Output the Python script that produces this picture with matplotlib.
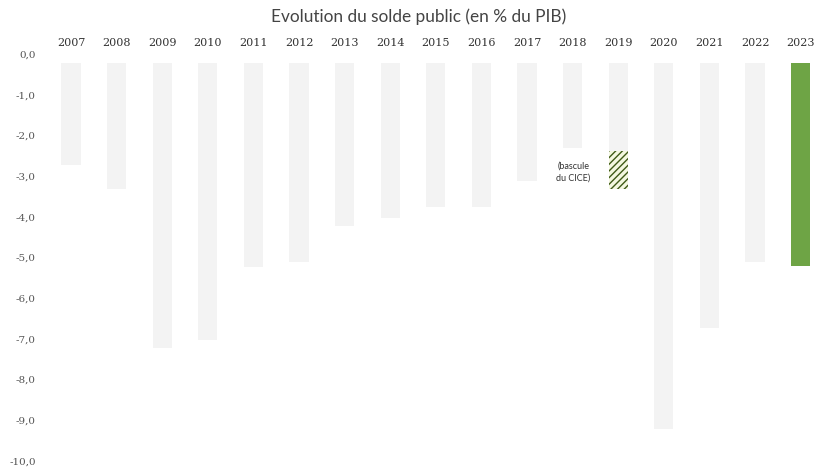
import matplotlib
matplotlib.use("Agg")
import matplotlib.pyplot as plt

years = [2007, 2008, 2009, 2010, 2011, 2012, 2013, 2014, 2015, 2016, 2017,
         2018, 2019, 2020, 2021, 2022, 2023]
# Public balance (% of GDP), negative = deficit
solde = [-2.5, -3.1, -7.0, -6.8, -5.0, -4.9, -4.0, -3.8, -3.55, -3.55, -2.9,
         -2.1, -2.15, -9.0, -6.5, -4.9, -4.98]
cice_year = 2019
cice_bottom = -3.1   # balance including the CICE switch
yticks = [0, -1, -2, -3, -4, -5, -6, -7, -8, -9, -10]
ytick_labels = ["0,0", "-1,0", "-2,0", "-3,0", "-4,0", "-5,0", "-6,0", "-7,0",
                "-8,0", "-9,0", "-10,0"]
title = "Evolution du solde public (en % du PIB)"
annot = "(bascule\ndu CICE)"

W, H = 814, 470
fig = plt.figure(figsize=(W / 100, H / 100), dpi=100)

px_unit_x = 45.6
px_unit_y = 40.7
x_first_px = 71
zero_y_px = 63
top_px = 50
ax = fig.add_axes([0, 0, 1, 1 - top_px / H])
x0 = years[0] - x_first_px / px_unit_x
ax.set_xlim(x0, x0 + W / px_unit_x)
ax.set_ylim(-(H - zero_y_px) / px_unit_y, (zero_y_px - top_px) / px_unit_y)

colors = ["#f3f3f3"] * (len(years) - 1) + ["#6ea445"]
ax.bar(years, solde, width=0.42, color=colors, linewidth=0)
# hatched CICE part
i = years.index(cice_year)
ax.bar([cice_year], [cice_bottom - solde[i]], bottom=solde[i], width=0.42,
       facecolor="#f4f8e0", edgecolor="#3f5a17", hatch="/////", linewidth=0)

ax.text(cice_year - 0.62, (solde[i] + cice_bottom) / 2 - 0.05, annot,
        ha="right", va="center", fontsize=6.5, color="#333333", family="Lato",
        linespacing=1.5)

for y in years:
    ax.text(y, 0.5, str(y), ha="center", va="center", fontsize=8,
            color="#333333", family="DejaVu Serif")

for v, lab in zip(yticks, ytick_labels):
    ax.text(36 / px_unit_x + x0, v + 8 / px_unit_y, lab, ha="right",
            va="center", fontsize=7.5, color="#555555", family="DejaVu Serif")

ax.set_xticks([])
ax.set_yticks([])
for s in ax.spines.values():
    s.set_visible(False)

fig.text(419 / W, 1 - 17 / H, title, ha="center", va="center", fontsize=12.4,
         color="#444444", family="Lato")

fig.savefig("out.png", dpi=100)
